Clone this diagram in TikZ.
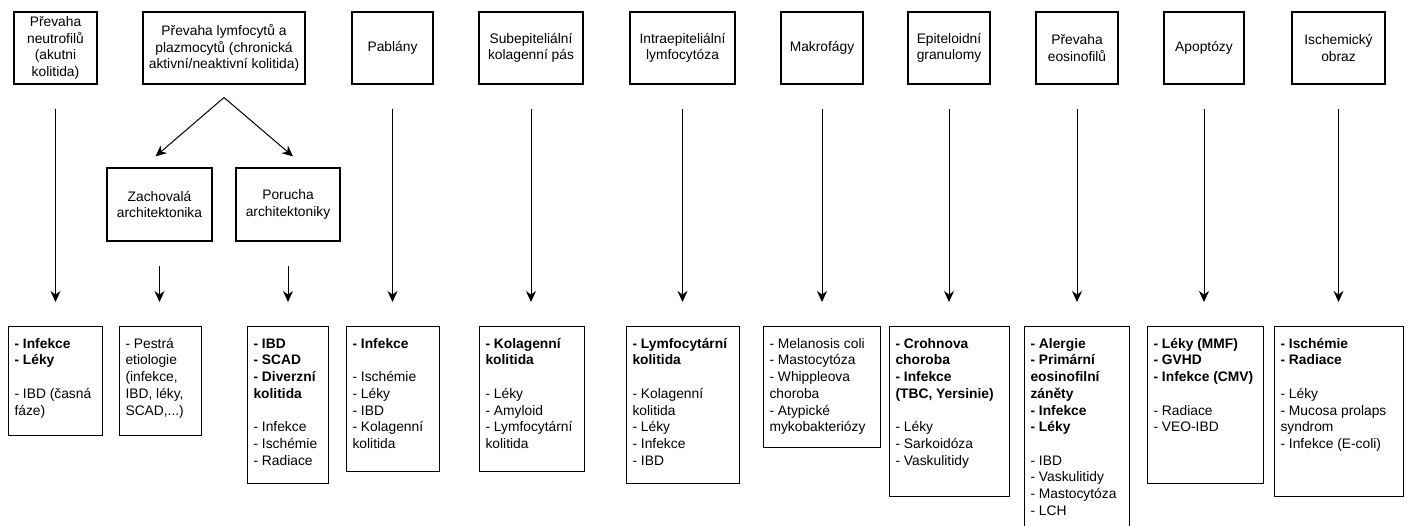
\documentclass[tikz,border=0pt]{standalone}
\usepackage{fontspec}
\setmainfont{Liberation Sans}
\usepackage{tikz}
\usetikzlibrary{arrows.meta,calc}
\tikzstyle{headbox} = [draw=black, line width=1.1pt, rectangle, align=center,
    minimum height=72pt, inner sep=2pt]
\tikzstyle{listbox} = [draw=black, line width=1.1pt, rectangle, anchor=north west,
    inner xsep=6pt, inner ysep=10pt]
\tikzstyle{arr} = [-{Stealth[length=11pt,width=10pt]}, line width=1pt]

\begin{document}
\begin{tikzpicture}[x=1pt, y=1pt, font=\fontsize{13.8pt}{16.7pt}\selectfont]
    \useasboundingbox (0,0) rectangle (1408,-526);
    \clip (0,0) rectangle (1408,-526);
    % top row
    \node[headbox, minimum width=83pt] (neutro) at (55.5,-48) {Převaha\\neutrofilů\\(akutni\\kolitida)};
    \node[headbox, minimum width=162pt] (lymfo) at (224,-48) {Převaha lymfocytů a\\plazmocytů (chronická\\aktivní/neaktivní kolitida)};
    \node[headbox, minimum width=81pt] (pablany) at (392.5,-48) {Pablány};
    \node[headbox, minimum width=104pt] (subepi) at (531,-48) {Subepiteliální\\kolagenní pás};
    \node[headbox, minimum width=105pt] (intra) at (682.5,-48) {Intraepiteliální\\lymfocytóza};
    \node[headbox, minimum width=82pt] (makro) at (822,-48) {Makrofágy};
    \node[headbox, minimum width=82pt] (epitel) at (949,-48) {Epiteloidní\\granulomy};
    \node[headbox, minimum width=82pt] (eosin) at (1077,-48) {Převaha\\eosinofilů};
    \node[headbox, minimum width=80pt] (apopt) at (1204,-48) {Apoptózy};
    \node[headbox, minimum width=93pt] (ischem) at (1338.5,-48) {Ischemický\\obraz};
    % architektonika
    \node[headbox, minimum width=105pt, minimum height=73pt] (zachov) at (159.5,-204.5) {Zachovalá\\architektonika};
    \node[headbox, minimum width=104pt, minimum height=73pt] (porucha) at (288,-204.5) {Porucha\\architektoniky};
    % bottom row
    \node[listbox, minimum width=94pt] (neutrolist) at (8,-326) {%
        \begin{minipage}[t][89pt][t]{82pt}\raggedright\strut
            {\bfseries - Infekce\\- Léky}\\[16.7pt]
            - IBD (časná\\fáze)
        \end{minipage}};
    \node[listbox, minimum width=82pt] (zachovlist) at (119,-326) {%
        \begin{minipage}[t][89pt][t]{70pt}\raggedright\strut
            - Pestrá\\etiologie\\(infekce,\\IBD, léky,\\SCAD,...)
        \end{minipage}};
    \node[listbox, minimum width=81pt] (poruchalist) at (247,-326) {%
        \begin{minipage}[t][137pt][t]{69pt}\raggedright\strut
            {\bfseries - IBD\\- SCAD\\- Diverzní\\kolitida}\\[16.7pt]
            - Infekce\\- Ischémie\\- Radiace
        \end{minipage}};
    \node[listbox, minimum width=93pt] (pablanylist) at (346,-326) {%
        \begin{minipage}[t][125pt][t]{81pt}\raggedright\strut
            {\bfseries - Infekce}\\[16.7pt]
            - Ischémie\\- Léky\\- IBD\\- Kolagenní\\kolitida
        \end{minipage}};
    \node[listbox, minimum width=105pt] (subepilist) at (479,-326) {%
        \begin{minipage}[t][125pt][t]{93pt}\raggedright\strut
            {\bfseries - Kolagenní\\kolitida}\\[16.7pt]
            - Léky\\- Amyloid\\- Lymfocytární\\kolitida
        \end{minipage}};
    \node[listbox, minimum width=113pt] (intralist) at (626,-326) {%
        \begin{minipage}[t][137pt][t]{101pt}\raggedright\strut
            {\bfseries - Lymfocytární\\kolitida}\\[16.7pt]
            - Kolagenní\\kolitida\\- Léky\\- Infekce\\- IBD
        \end{minipage}};
    \node[listbox, minimum width=117pt] (makrolist) at (763,-326) {%
        \begin{minipage}[t][101pt][t]{105pt}\raggedright\strut
            - Melanosis coli\\- Mastocytóza\\- Whippleova\\choroba\\- Atypické\\mykobakteriózy
        \end{minipage}};
    \node[listbox, minimum width=120pt] (epitellist) at (889,-326) {%
        \begin{minipage}[t][150pt][t]{108pt}\raggedright\strut
            {\bfseries - Crohnova\\choroba\\- Infekce\\(TBC, Yersinie)}\\[16.7pt]
            - Léky\\- Sarkoidóza\\- Vaskulitidy
        \end{minipage}};
    \node[listbox, minimum width=105pt] (eosinlist) at (1024,-326) {%
        \begin{minipage}[t][195pt][t]{93pt}\raggedright\strut
            {\bfseries - Alergie\\- Primární\\eosinofilní\\záněty\\- Infekce\\- Léky}\\[16.7pt]
            - IBD\\- Vaskulitidy\\- Mastocytóza\\- LCH
        \end{minipage}};
    \node[listbox, minimum width=116pt] (apoptlist) at (1147,-326) {%
        \begin{minipage}[t][137pt][t]{104pt}\raggedright\strut
            {\bfseries - Léky (MMF)\\- GVHD\\- Infekce (CMV)}\\[16.7pt]
            - Radiace\\- VEO-IBD
        \end{minipage}};
    \node[listbox, minimum width=129pt] (ischemlist) at (1274,-326) {%
        \begin{minipage}[t][150pt][t]{117pt}\raggedright\strut
            {\bfseries - Ischémie\\- Radiace}\\[16.7pt]
            - Léky\\- Mucosa prolaps\\syndrom\\- Infekce (E-coli)
        \end{minipage}};
    % arrows
    \draw[arr] ([yshift=-13pt]lymfo.south) -- ($(zachov.north)+(-4,11)$);
    \draw[arr] ([yshift=-13pt]lymfo.south) -- ($(porucha.north)+(5,11)$);
    \draw[arr] ([yshift=-24pt]zachov.south) -- ($(zachov.south |- zachovlist.north)+(0,24)$);
    \draw[arr] ([yshift=-24pt]porucha.south) -- ($(porucha.south |- poruchalist.north)+(0,24)$);
    \foreach \n in {neutro,pablany,subepi,intra,makro,epitel,eosin,apopt,ischem}
        \draw[arr] ([yshift=-24pt]\n.south) -- ($(\n.south |- \n list.north)+(0,24)$);
\end{tikzpicture}
\end{document}
